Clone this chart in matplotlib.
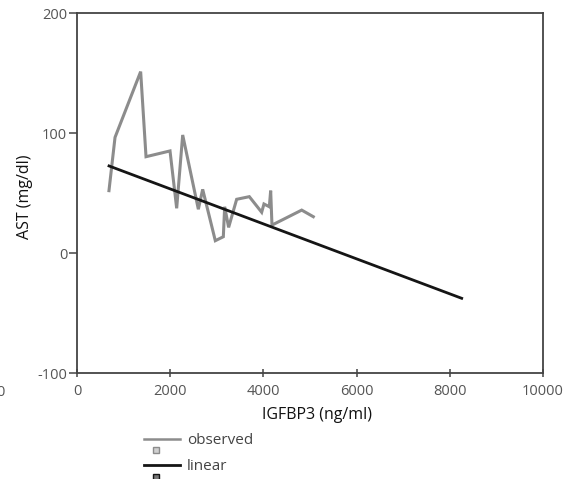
import matplotlib
matplotlib.use("Agg")
import matplotlib.pyplot as plt
from matplotlib.lines import Line2D

# ---- data ----
igfbp3 = [686, 816, 1366, 1481, 1996, 2139, 2268, 2604, 2697, 2968, 3140,
          3169, 3254, 3426, 3698, 3963, 4012, 4127, 4156, 4184, 4822, 5071]
ast = [52.2, 96.6, 151.4, 80.5, 85.3, 37.5, 98.6, 36.7, 53.3, 10.5, 13.8,
       38.8, 21.6, 45.0, 47.2, 34.2, 41.1, 38.8, 52.2, 23.5, 36.0, 30.5]
linear_x = [687, 8255]
linear_y = [72.8, -37.5]
xticks = [0, 2000, 4000, 6000, 8000, 10000]
yticks = [-100, 0, 100, 200]

plt.rcParams['font.family'] = ['Open Sans', 'DejaVu Sans']

W, H = 573, 479
fig = plt.figure(figsize=(W / 100, H / 100), dpi=100)
L, R, T, B = 77, 543, 13.3, 373.3
ax = fig.add_axes([L / W, 1 - B / H, (R - L) / W, (B - T) / H])

obs_color = '#8c8c8c'
lin_color = '#151515'
ax.plot(igfbp3, ast, color=obs_color, lw=2.2, solid_joinstyle='miter')
ax.plot(linear_x, linear_y, color=lin_color, lw=2.0)

ax.set_xlim(0, 10000)
ax.set_ylim(-100, 200)
ax.set_xticks(xticks)
ax.set_yticks(yticks)
ax.set_xticklabels([str(t) for t in xticks])
ax.set_yticklabels([str(t) for t in yticks])

for s in ax.spines.values():
    s.set_color('#444444')
    s.set_linewidth(1.3)

ax.tick_params(axis='y', direction='out', length=6, width=1.1, color='#444444',
               labelsize=10.5, labelcolor='#555555', pad=1)
ax.tick_params(axis='x', direction='inout', length=6, width=1.1, color='#444444',
               labelsize=10.5, labelcolor='#555555', pad=5)

ax.set_xlabel('IGFBP3 (ng/ml)', fontsize=11.5, color='#111111')
ax.set_ylabel('AST (mg/dl)', fontsize=11.5, color='#111111')
ax.xaxis.set_label_coords((317.5 - L) / (R - L), -(415 - B) / (B - T), transform=ax.transAxes)
ax.xaxis.label.set_va('center')
ax.yaxis.set_label_coords(-(L - 25) / (R - L), (B - 197) / (B - T), transform=ax.transAxes)
ax.yaxis.label.set_va('center')

# clipped stray label at left edge
fig.text(0.0, 1 - 392 / H, '0', ha='center', va='center', fontsize=10.5, color='#555555')

# legend (manual, below the plot)
def fx(px):
    return px / W

def fy(py):
    return 1 - py / H

fig.add_artist(Line2D([fx(144), fx(180)], [fy(439), fy(439)], color=obs_color, lw=1.8,
                      transform=fig.transFigure))
fig.add_artist(Line2D([fx(156)], [fy(450)], marker='s', markersize=4, color=obs_color,
                      markerfacecolor='#d0d0d0', markeredgewidth=1.0, linestyle='none',
                      transform=fig.transFigure))
fig.text(fx(187), fy(440), 'observed', ha='left', va='center', fontsize=11, color='#444444')

fig.add_artist(Line2D([fx(144), fx(180)], [fy(465), fy(465)], color=lin_color, lw=2.0,
                      transform=fig.transFigure))
fig.add_artist(Line2D([fx(156)], [fy(477)], marker='s', markersize=4, color=lin_color,
                      markerfacecolor='#777777', markeredgewidth=1.0, linestyle='none',
                      transform=fig.transFigure))
fig.text(fx(187), fy(466), 'linear', ha='left', va='center', fontsize=11, color='#444444')

fig.savefig('out.png', dpi=100)
